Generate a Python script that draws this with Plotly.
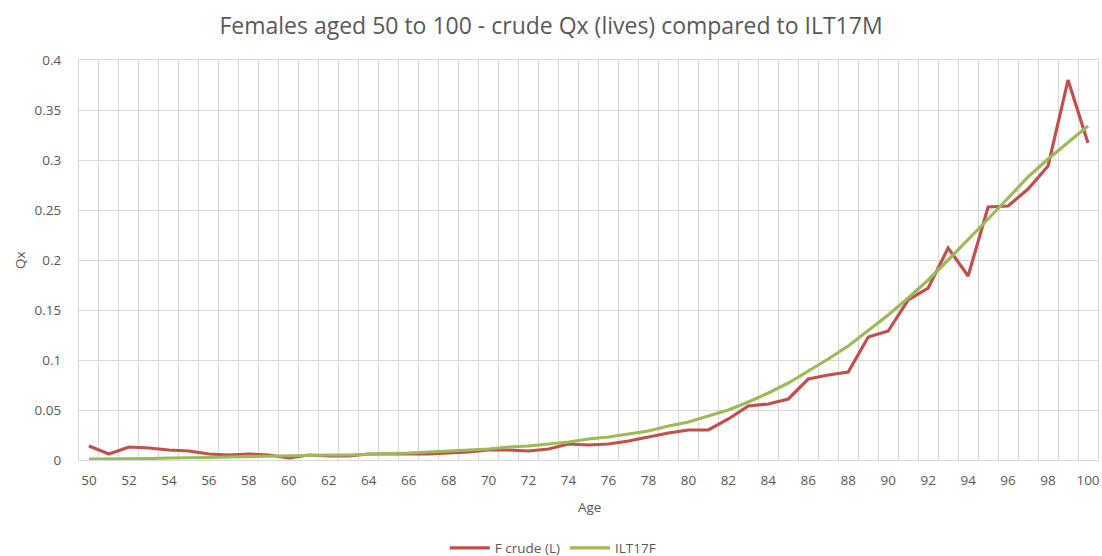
import plotly.graph_objects as go

ages = list(range(50, 101))

f_crude = [0.014, 0.006, 0.013, 0.012, 0.010, 0.009, 0.006, 0.005, 0.006, 0.005,
           0.002, 0.005, 0.004, 0.004, 0.006, 0.006, 0.006, 0.006, 0.007, 0.008,
           0.010, 0.010, 0.009, 0.011, 0.016, 0.015, 0.016, 0.019, 0.023, 0.027,
           0.030, 0.030, 0.041, 0.054, 0.056, 0.061, 0.081, 0.085, 0.088, 0.123,
           0.129, 0.160, 0.172, 0.212, 0.184, 0.253, 0.254, 0.271, 0.294, 0.380,
           0.317]

ilt17f = [0.001, 0.001, 0.001, 0.0015, 0.002, 0.002, 0.0025, 0.003, 0.0035, 0.0035,
          0.004, 0.0045, 0.005, 0.005, 0.006, 0.0065, 0.007, 0.008, 0.009, 0.010,
          0.011, 0.013, 0.014, 0.016, 0.018, 0.021, 0.023, 0.026, 0.029, 0.034,
          0.038, 0.044, 0.050, 0.058, 0.067, 0.077, 0.089, 0.101, 0.114, 0.129,
          0.145, 0.162, 0.180, 0.200, 0.220, 0.241, 0.262, 0.283, 0.301, 0.318,
          0.334]

x_ticks = list(range(50, 101, 2))
y_ticks = [0, 0.05, 0.1, 0.15, 0.2, 0.25, 0.3, 0.35, 0.4]
y_labels = ["0", "0.05", "0.1", "0.15", "0.2", "0.25", "0.3", "0.35", "0.4"]

FONT = "Open Sans"
TXT = "#595959"
GRID = "#d9d9d9"

fig = go.Figure()
fig.add_trace(go.Scatter(x=ages, y=f_crude, mode="lines", name="F crude (L)",
                         line=dict(color="#c0504d", width=3.2)))
fig.add_trace(go.Scatter(x=ages, y=ilt17f, mode="lines", name="ILT17F",
                         line=dict(color="#9bbb59", width=3.2)))

fig.update_layout(
    width=1102, height=556,
    margin=dict(l=79, r=4, t=60, b=96, autoexpand=False),
    paper_bgcolor="white", plot_bgcolor="white",
    font=dict(family=FONT, color=TXT, size=13),
    title=dict(text="Females aged 50 to 100 - crude Qx (lives) compared to ILT17M",
               x=551 / 1102, xanchor="center", y=1 - 26 / 556, yanchor="middle",
               font=dict(family=FONT, size=23, color=TXT)),
    showlegend=True,
    legend=dict(orientation="h", x=0.465, xanchor="center", y=-0.22, yanchor="middle",
                font=dict(size=13.5, color=TXT), itemwidth=40, tracegroupgap=0),
    xaxis=dict(range=[49.5, 100.5], tickmode="array", tickvals=x_ticks,
               showgrid=False, zeroline=False, automargin=False,
               showline=True, mirror=True, linecolor=GRID, linewidth=1,
               ticks="outside", ticklen=8, tickcolor="rgba(0,0,0,0)",
               tickfont=dict(size=13.5, color=TXT),
               minor=dict(tick0=49.5, dtick=1, showgrid=True, gridcolor=GRID,
                          gridwidth=1, ticks="")),
    yaxis=dict(range=[0, 0.4], tickmode="array", tickvals=y_ticks, ticktext=y_labels,
               showgrid=True, gridcolor=GRID, gridwidth=1, zeroline=False, automargin=False,
               showline=True, mirror=True, linecolor=GRID, linewidth=1,
               ticks="outside", ticklen=14, tickcolor="rgba(0,0,0,0)",
               tickfont=dict(size=13.5, color=TXT)),
    annotations=[
        dict(text="Age", xref="paper", yref="paper", x=(589 - 79) / 1019,
             y=(460 - 507) / 400, xanchor="center", yanchor="middle",
             showarrow=False, font=dict(size=13.5, color=TXT)),
        dict(text="Qx", xref="paper", yref="paper", x=(20 - 79) / 1019,
             y=(460 - 260) / 400, xanchor="center", yanchor="middle",
             showarrow=False, textangle=-90, font=dict(size=13.5, color=TXT)),
    ],
)

fig.write_html("out.html", config={"displayModeBar": False},
               post_script="document.body.style.margin='0';document.body.style.overflow='hidden';")
